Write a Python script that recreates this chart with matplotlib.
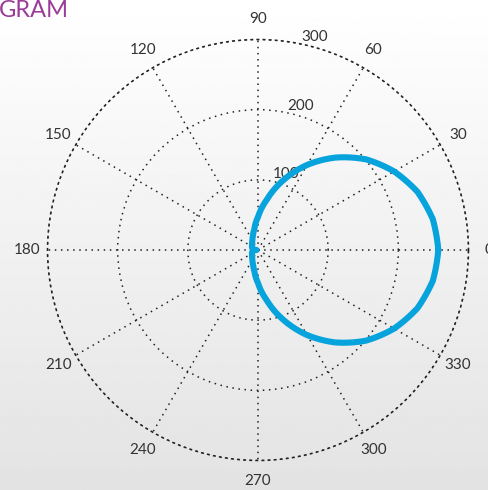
import numpy as np
import matplotlib
matplotlib.use("Agg")
import matplotlib.pyplot as plt

# radiation pattern (degrees, radius)
angles_deg = [0, 10, 20, 30, 40, 50, 60, 70, 80, 90, 100, 110, 120, 130, 140, 150, 160, 170,
              180, 190, 200, 210, 220, 230, 240, 250, 260, 270, 280, 290, 300, 310, 320, 330,
              340, 350, 360]
radius = [257, 253, 242, 224, 201, 172, 140, 106, 73, 47, 30, 21, 16, 13, 11, 10, 9, 6,
          2, 6, 9, 10, 11, 13, 16, 21, 30, 47, 73, 106, 140, 172, 201, 224,
          242, 253, 257]
rings = [100, 200, 300]
ring_labels = ["100", "200", "300"]
spokes = [0, 30, 60, 90, 120, 150, 180, 210, 240, 270, 300, 330]

W, H = 488, 490
fig = plt.figure(figsize=(W / 100, H / 100), dpi=100)

# light gray gradient background
bg = fig.add_axes([0, 0, 1, 1])
grad = np.linspace(1.0, 0.89, 256).reshape(-1, 1)
bg.imshow(grad, cmap="gray", vmin=0, vmax=1, aspect="auto", extent=[0, 1, 0, 1])
bg.axis("off")

fig.text(-0.002, 0.999, "GRAM", color="#9a3b98", fontsize=17, ha="left", va="top",
         family="Lato")

cx, cy, R = 258, 250, 210.5
ax = fig.add_axes([(cx - R) / W, (H - cy - R) / H, 2 * R / W, 2 * R / H], projection="polar")
ax.patch.set_alpha(0)
line, = ax.plot(np.deg2rad(angles_deg), radius, color="#07a3dd", lw=4.4,
                solid_capstyle="round", zorder=3)
# follow the polar arc between the read points instead of straight chords
line.get_path()._interpolation_steps = 40

ax.set_ylim(0, 300)
ax.set_yticks(rings)
ax.set_yticklabels(ring_labels, family="Lato")
ax.set_rlabel_position(78)
ax.set_thetagrids(spokes, [str(s) for s in spokes], family="Lato")
ax.grid(True, color="#222222", linestyle=(0, (1, 3)), linewidth=1.1)
ax.spines["polar"].set_linestyle((0, (1, 3)))
ax.spines["polar"].set_linewidth(1.1)
ax.spines["polar"].set_color("#222222")
ax.tick_params(axis="x", pad=4, labelsize=11, colors="#333333")
ax.tick_params(axis="y", labelsize=11, colors="#333333")
for t in ax.get_yticklabels():
    t.set_verticalalignment("bottom")

fig.savefig("out.png", dpi=100)
